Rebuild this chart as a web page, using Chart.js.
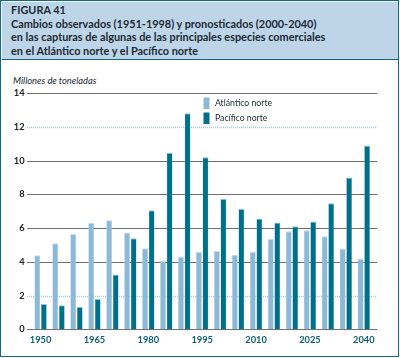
<!DOCTYPE html>
<html>
<head>
<meta charset="utf-8">
<script src="https://cdn.jsdelivr.net/npm/chart.js@4"></script>
<style>
  html, body { margin: 0; padding: 0; background: #ffffff; }
  #wrap { position: relative; width: 400px; height: 358px; overflow: hidden; }
  #frame { position: absolute; left: 0; top: 0; width: 399px; height: 357px; box-sizing: border-box; border: 1.5px solid #0e6b82; }
  #header { position: absolute; left: 1.5px; top: 1.5px; width: 396px; height: 57.5px; background: #bdd5e7; border-bottom: 1.5px solid #0e6b82; }
  #title { position: absolute; left: 11px; top: 3px; font-family: Lato, "Open Sans", sans-serif; font-weight: bold; font-size: 10.9px; line-height: 13.5px; color: #1b2a35; white-space: nowrap; }
  #ylab { position: absolute; left: 13px; top: 75px; font-family: Lato, "Open Sans", sans-serif; font-style: italic; font-size: 9.3px; color: #1b2a35; white-space: nowrap; }
  #c { position: absolute; left: 0; top: 0; }
</style>
</head>
<body>
<div id="wrap">
  <div id="frame"></div>
  <div id="header"></div>
  <div id="title">FIGURA 41<br>Cambios observados (1951-1998) y pronosticados (2000-2040)<br>en las capturas de algunas de las principales especies comerciales<br>en el Atlántico norte y el Pacífico norte</div>
  <div id="ylab">Millones de toneladas</div>
  <canvas id="c" width="400" height="358"></canvas>
</div>
<script>
const years = ["1950","1955","1960","1965","1970","1975","1980","1985","1990","1995","2000","2005","2010","2015","2020","2025","2030","2035","2040"];
const seriesNames = ["Atlántico norte", "Pacífico norte"];
const atlantico = [4.4, 5.1, 5.65, 6.3, 6.47, 5.74, 4.81, 4.06, 4.32, 4.6, 4.65, 4.42, 4.6, 5.35, 5.82, 5.88, 5.52, 4.79, 4.2];
const pacifico  = [1.5, 1.42, 1.32, 1.8, 3.25, 5.4, 7.06, 10.47, 12.82, 10.2, 7.75, 7.14, 6.57, 6.33, 6.11, 6.39, 7.48, 9.01, 10.91];
const yTicks = [0, 2, 4, 6, 8, 10, 12, 14];

const COL_ATL = "#8db9d9";
const COL_PAC = "#00708a";

const gridPlugin = {
  id: "extGrid",
  beforeDatasetsDraw(chart) {
    const ctx = chart.ctx, y = chart.scales.y, a = chart.chartArea;
    ctx.save();
    yTicks.forEach(v => {
      const py = Math.round(y.getPixelForValue(v)) + 0.5;
      ctx.beginPath();
      if (v === 2 || v === 12) {
        ctx.strokeStyle = "#a3c4dd";
        ctx.lineWidth = 1.5;
        ctx.setLineDash([1, 1]);
      } else {
        ctx.strokeStyle = "#707070";
        ctx.lineWidth = 1;
        ctx.setLineDash([]);
      }
      ctx.moveTo(a.left - 4.5, py);
      ctx.lineTo(a.right + 4.5, py);
      ctx.stroke();
    });
    ctx.restore();
  }
};

const legendPlugin = {
  id: "innerLegend",
  afterDraw(chart) {
    const ctx = chart.ctx;
    ctx.save();
    chart.data.datasets.forEach((ds, i) => {
      const x = 203.5, yTop = 97.5 + i * 15;
      ctx.fillStyle = ds.backgroundColor;
      ctx.fillRect(x, yTop, 6, 11.5);
      ctx.fillStyle = "#1b2a35";
      ctx.font = "8.7px Lato, 'Open Sans', sans-serif";
      ctx.textBaseline = "middle";
      ctx.textAlign = "left";
      ctx.fillText(ds.label, 215, yTop + 6);
    });
    ctx.restore();
  }
};

new Chart(document.getElementById("c"), {
  type: "bar",
  data: {
    labels: years,
    datasets: [
      { label: seriesNames[0], data: atlantico, backgroundColor: COL_ATL, borderColor: "#c4dbec", borderWidth: {top: 1, left: 0.5, right: 0.5, bottom: 0} },
      { label: seriesNames[1], data: pacifico, backgroundColor: COL_PAC, borderColor: "#8ec3d6", borderWidth: {top: 1, left: 0.5, right: 0.5, bottom: 0} }
    ]
  },
  options: {
    responsive: false,
    animation: false,
    devicePixelRatio: 1,
    layout: { padding: { left: 0, right: 27.2, top: 93.3, bottom: 0 } },
    plugins: { legend: { display: false }, title: { display: false }, tooltip: { enabled: false } },
    datasets: { bar: { categoryPercentage: 0.73, barPercentage: 0.9 } },
    scales: {
      x: {
        grid: { display: false, drawTicks: false },
        border: { display: false },
        ticks: {
          autoSkip: false, maxRotation: 0, padding: 5,
          color: "#0b5f7a",
          font: { family: "Lato, 'Open Sans', sans-serif", weight: "bold", size: 9.3 },
          callback: function(v, i) { return i % 3 === 0 ? this.getLabelForValue(v) : ""; }
        },
        afterFit(s) { s.height = 28.7; }
      },
      y: {
        min: 0, max: 14,
        grid: { display: false, drawTicks: false },
        border: { display: false },
        ticks: {
          stepSize: 2, padding: 7,
          color: "#222222",
          font: { family: "Lato, 'Open Sans', sans-serif", weight: "bold", size: 9.3 }
        },
        afterFit(s) { s.width = 31.6; }
      }
    }
  },
  plugins: [gridPlugin, legendPlugin]
});
</script>
</body>
</html>
